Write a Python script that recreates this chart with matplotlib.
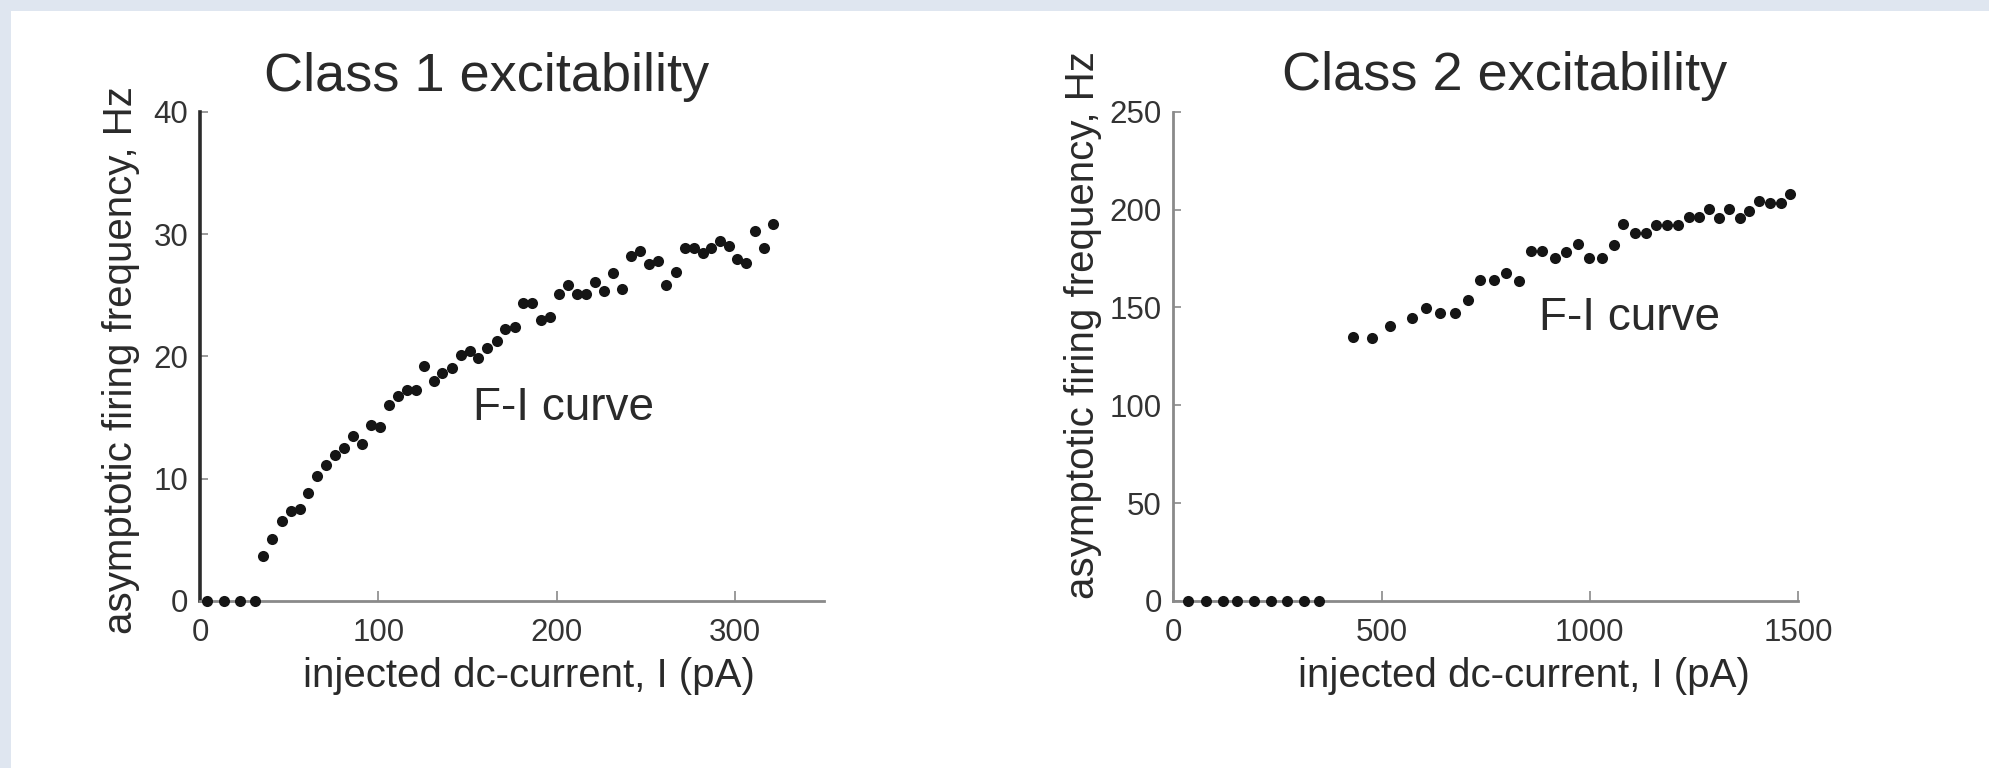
import matplotlib
matplotlib.use("Agg")
from matplotlib import pyplot as plt
from matplotlib.patches import Rectangle

plt.rcParams["font.family"] = ["Liberation Sans", "DejaVu Sans"]

# Class 1: injected current (pA) vs asymptotic firing frequency (Hz)
class1_current = [4, 13.6, 22.4, 30.6, 35.5, 40.5, 45.9, 51.1, 56.0, 60.7,
                  65.9, 70.8, 75.8, 80.7, 85.9, 91.1, 96.0, 101.2, 105.9, 111.1,
                  116.0, 121.2, 125.9, 131.1, 136.0, 141.2, 146.4, 151.3, 156.0, 161.2,
                  166.4, 171.3, 176.5, 181.2, 186.4, 191.3, 196.5, 201.2, 206.4, 211.3,
                  216.5, 221.6, 226.6, 231.8, 236.5, 241.6, 246.6, 251.8, 257.0, 261.6,
                  267.1, 271.8, 276.9, 281.9, 286.6, 291.8, 296.5, 301.2, 306.4, 311.1,
                  316.5, 321.2]
class1_freq = [0, 0, 0, 0, 3.67, 5.08, 6.51, 7.37, 7.54, 8.80,
               10.24, 11.15, 11.90, 12.47, 13.48, 12.82, 14.42, 14.19, 16.06, 16.77,
               17.29, 17.29, 19.21, 17.98, 18.64, 19.07, 20.07, 20.44, 19.87, 20.65,
               21.22, 22.22, 22.42, 24.37, 24.37, 22.94, 23.23, 25.09, 25.81, 25.09,
               25.09, 26.09, 25.38, 26.81, 25.52, 28.24, 28.59, 27.58, 27.81, 25.86,
               26.87, 28.87, 28.87, 28.44, 28.82, 29.39, 29.02, 27.96, 27.67, 30.25,
               28.87, 30.82]

# Class 2
class2_current = [34, 77, 118, 152, 194, 234, 272, 314, 350,
                  431, 477, 521, 574, 606, 640, 675, 708, 737, 769,
                  799, 831, 858, 886, 916, 942, 971, 998, 1029, 1057,
                  1080, 1109, 1135, 1160, 1185, 1212, 1238, 1263, 1286, 1311,
                  1335, 1360, 1383, 1406, 1433, 1458, 1481]
class2_freq = [0, 0, 0, 0, 0, 0, 0, 0, 0,
               134.8, 134.2, 140.3, 144.8, 149.6, 147.0, 147.0, 153.8, 164.0, 164.0,
               167.6, 163.4, 178.9, 178.9, 175.1, 178.3, 182.3, 175.1, 175.1, 181.9,
               192.7, 188.2, 188.2, 192.3, 192.3, 192.3, 196.2, 196.2, 200.2, 195.9,
               200.2, 195.9, 199.5, 204.3, 203.4, 203.4, 207.9]

titles = ["Class 1 excitability", "Class 2 excitability"]
xlabel = "injected dc-current, I (pA)"
ylabel = "asymptotic firing frequency, Hz"

W, H = 1990, 768
fig = plt.figure(figsize=(W / 100, H / 100), dpi=100, facecolor="white")

# light blue page border (left and top)
bg = "#dfe6f0"
fig.patches.append(Rectangle((0, 0), 11 / W, 1, transform=fig.transFigure,
                             facecolor=bg, edgecolor="none", zorder=-10))
fig.patches.append(Rectangle((0, 1 - 11 / H), 1, 11 / H, transform=fig.transFigure,
                             facecolor=bg, edgecolor="none", zorder=-10))

ax1 = fig.add_axes([200 / W, (H - 601) / H, 624 / W, 489.3 / H])
ax2 = fig.add_axes([1173.5 / W, (H - 601) / H, 624.5 / W, 489.3 / H])

text_col = "#2a2a2a"
dot_col = "#151515"
grey = "#8a8a8a"

for ax, x, y in [(ax1, class1_current, class1_freq), (ax2, class2_current, class2_freq)]:
    ax.plot(x, y, "o", color=dot_col, ms=8, mec="none", clip_on=False, zorder=5)
    ax.spines["top"].set_visible(False)
    ax.spines["right"].set_visible(False)
    ax.spines["bottom"].set_color(grey)
    ax.spines["bottom"].set_linewidth(2)
    ax.spines["left"].set_color(grey)
    ax.spines["left"].set_linewidth(2)
    ax.tick_params(axis="x", direction="in", length=7.5, width=1.2, color=grey,
                   pad=12, labelsize=22.5, labelcolor="#333333")
    ax.tick_params(axis="y", direction="in", length=5.5, width=1.2, color=grey,
                   pad=8.5, labelsize=22.5, labelcolor="#333333")
    ax.set_ylabel(ylabel, fontsize=29, color=text_col)
    ax.set_xlabel(xlabel, fontsize=29, color=text_col, va="baseline")

ax1.spines["left"].set_color("#2b2b2b")
ax1.spines["left"].set_linewidth(2.6)

ax1.set_xlim(0, 350)
ax1.set_ylim(0, 40)
ax1.set_xticks([0, 100, 200, 300])
ax1.set_yticks([0, 10, 20, 30, 40])
ax1.xaxis.set_label_coords(0.5264, -0.175)
ax1.yaxis.set_label_coords(-0.096, 0.4915)
ax1.text(152.9, 14.78, "F-I curve", fontsize=33, color=text_col, va="baseline")

ax2.set_xlim(0, 1500)
ax2.set_ylim(0, 250)
ax2.set_xticks([0, 500, 1000, 1500])
ax2.set_yticks([0, 50, 100, 150, 200, 250])
ax2.xaxis.set_label_coords(0.5615, -0.175)
ax2.yaxis.set_label_coords(-0.115, 0.563)
ax2.text(877, 138.5, "F-I curve", fontsize=33, color=text_col, va="baseline")

fig.text(486.5 / W, (H - 91) / H, titles[0], fontsize=39, color=text_col,
         ha="center", va="baseline")
fig.text(1505 / W, (H - 90) / H, titles[1], fontsize=39, color=text_col,
         ha="center", va="baseline")

fig.savefig("out.png", dpi=100, facecolor=fig.get_facecolor())
